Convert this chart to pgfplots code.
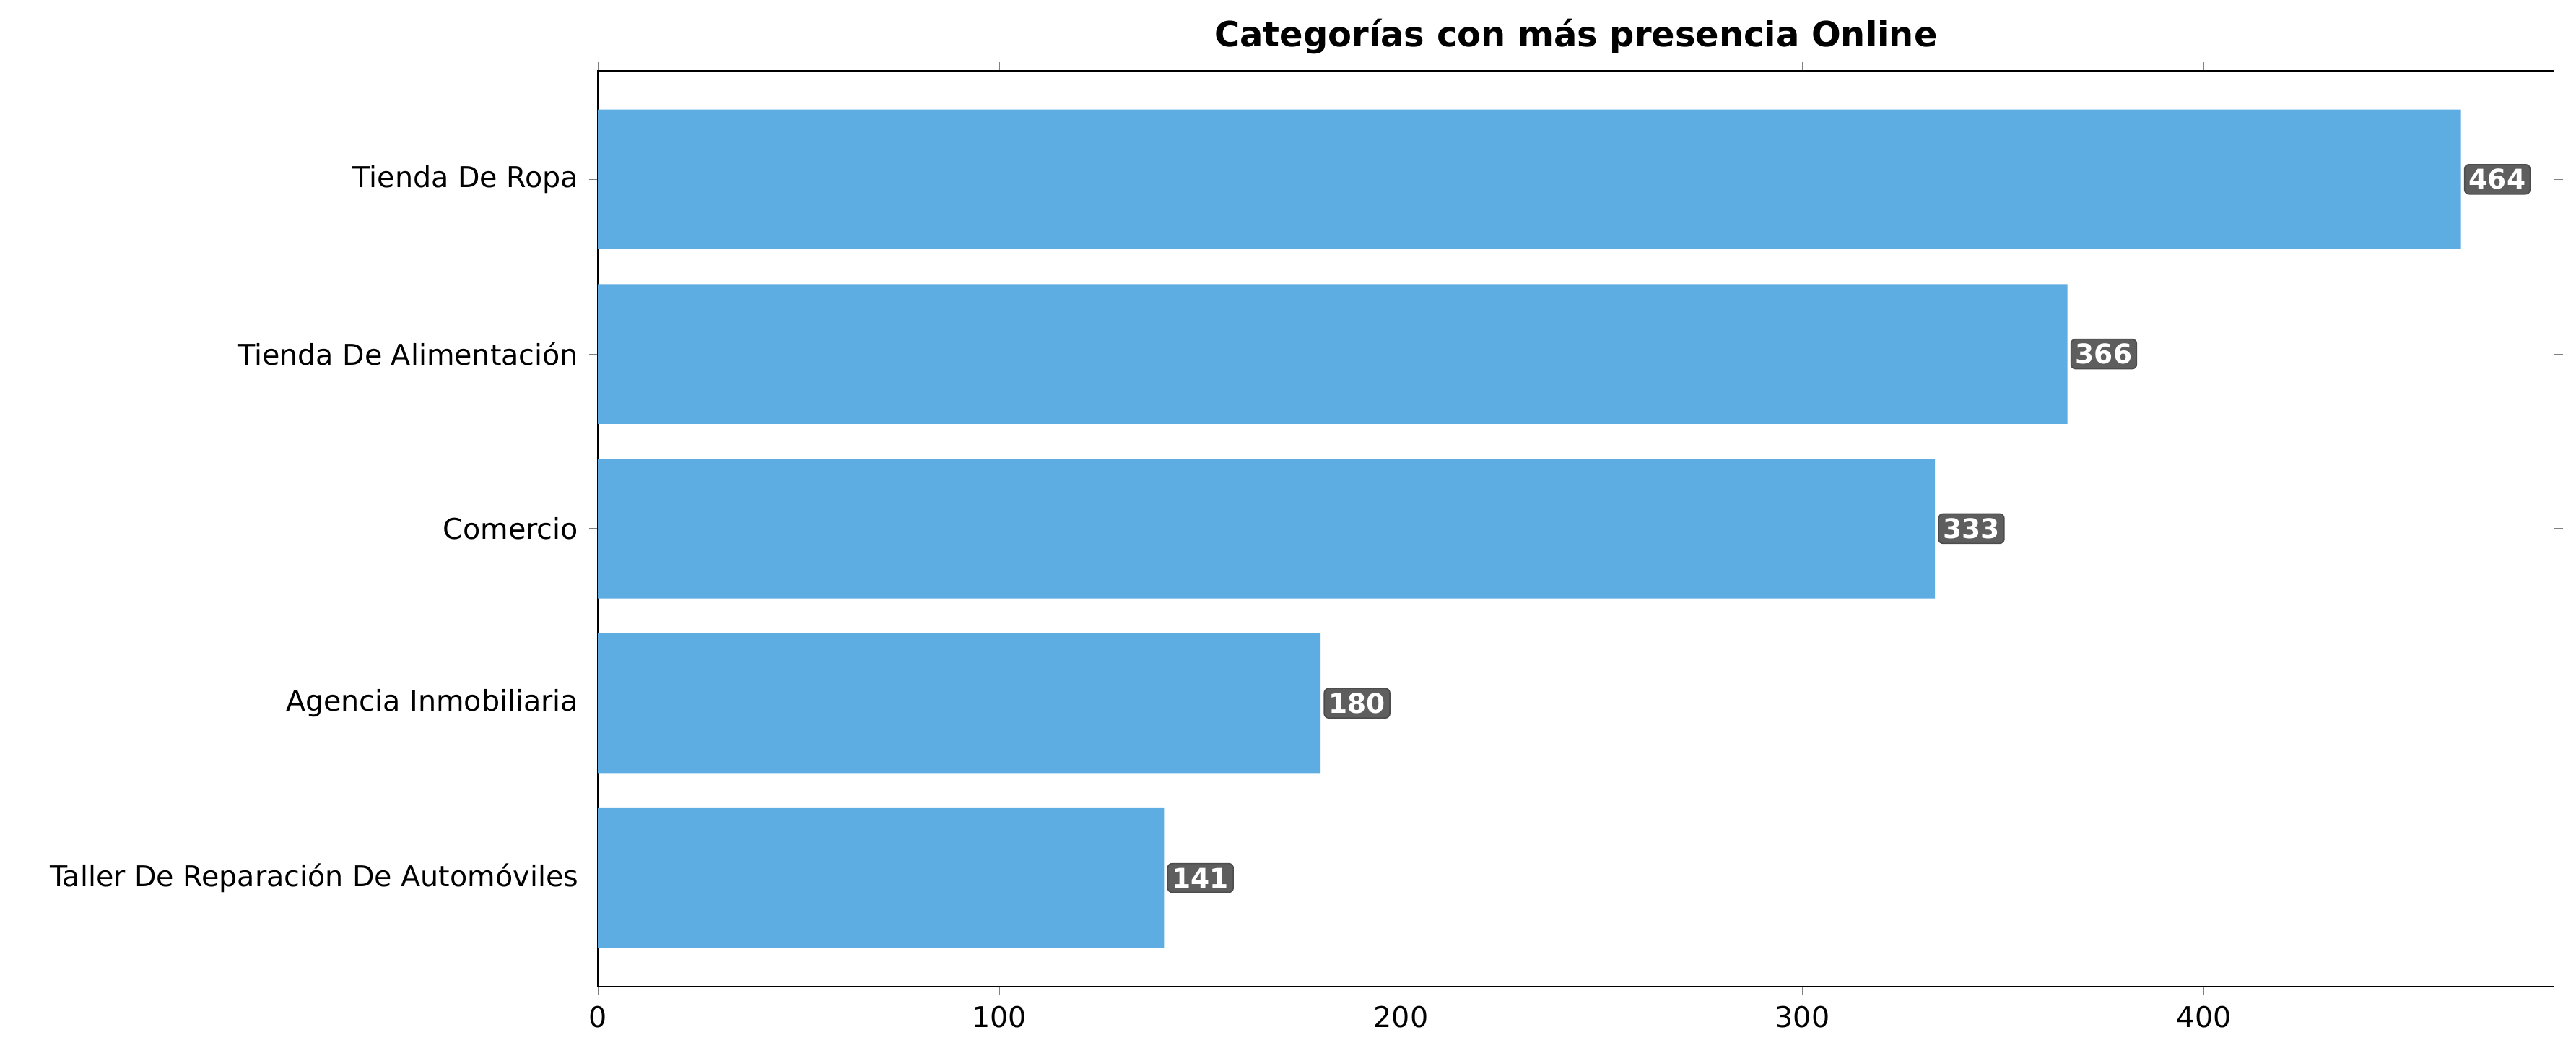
\documentclass[border=0pt]{standalone}
\usepackage{pgfplots}
\pgfplotsset{compat=1.18}
\usepackage{fontspec}
\setmainfont{DejaVu Sans}
\definecolor{barc}{HTML}{5DADE2}
\definecolor{boxc}{HTML}{5E5E5E}
\begin{document}
\begin{tikzpicture}
\useasboundingbox (-198.7pt,-24.6pt) rectangle (657.3pt,327.6pt);
\begin{axis}[
  scale only axis, width=650pt, height=304pt,
  xbar, bar width=0.8, bar shift=0pt,
  xmin=0, xmax=487.2, ymin=-0.62, ymax=4.62,
  ytick={0,1,2,3,4},
  yticklabels={Taller De Reparación De Automóviles, Agencia Inmobiliaria, Comercio, Tienda De Alimentación, Tienda De Ropa},
  xtick={0,100,200,300,400},
  tick label style={font=\fontsize{9.5}{11}\selectfont},
  /pgf/number format/assume math mode=true,
  tick align=outside, major tick length=3pt,
  title={\bfseries Categorías con más presencia Online},
  title style={font=\fontsize{11.5}{13}\selectfont, yshift=-4pt},
  nodes near coords,
  every node near coord/.append style={anchor=west, xshift=1pt, fill=boxc, draw=black!70, rounded corners=1.5pt, inner sep=1.5pt, text=white, font=\bfseries\fontsize{9}{10}\selectfont},
]
\addplot[fill=barc, draw=none] coordinates {(141,0) (180,1) (333,2) (366,3) (464,4)};
\end{axis}
\end{tikzpicture}
\end{document}
